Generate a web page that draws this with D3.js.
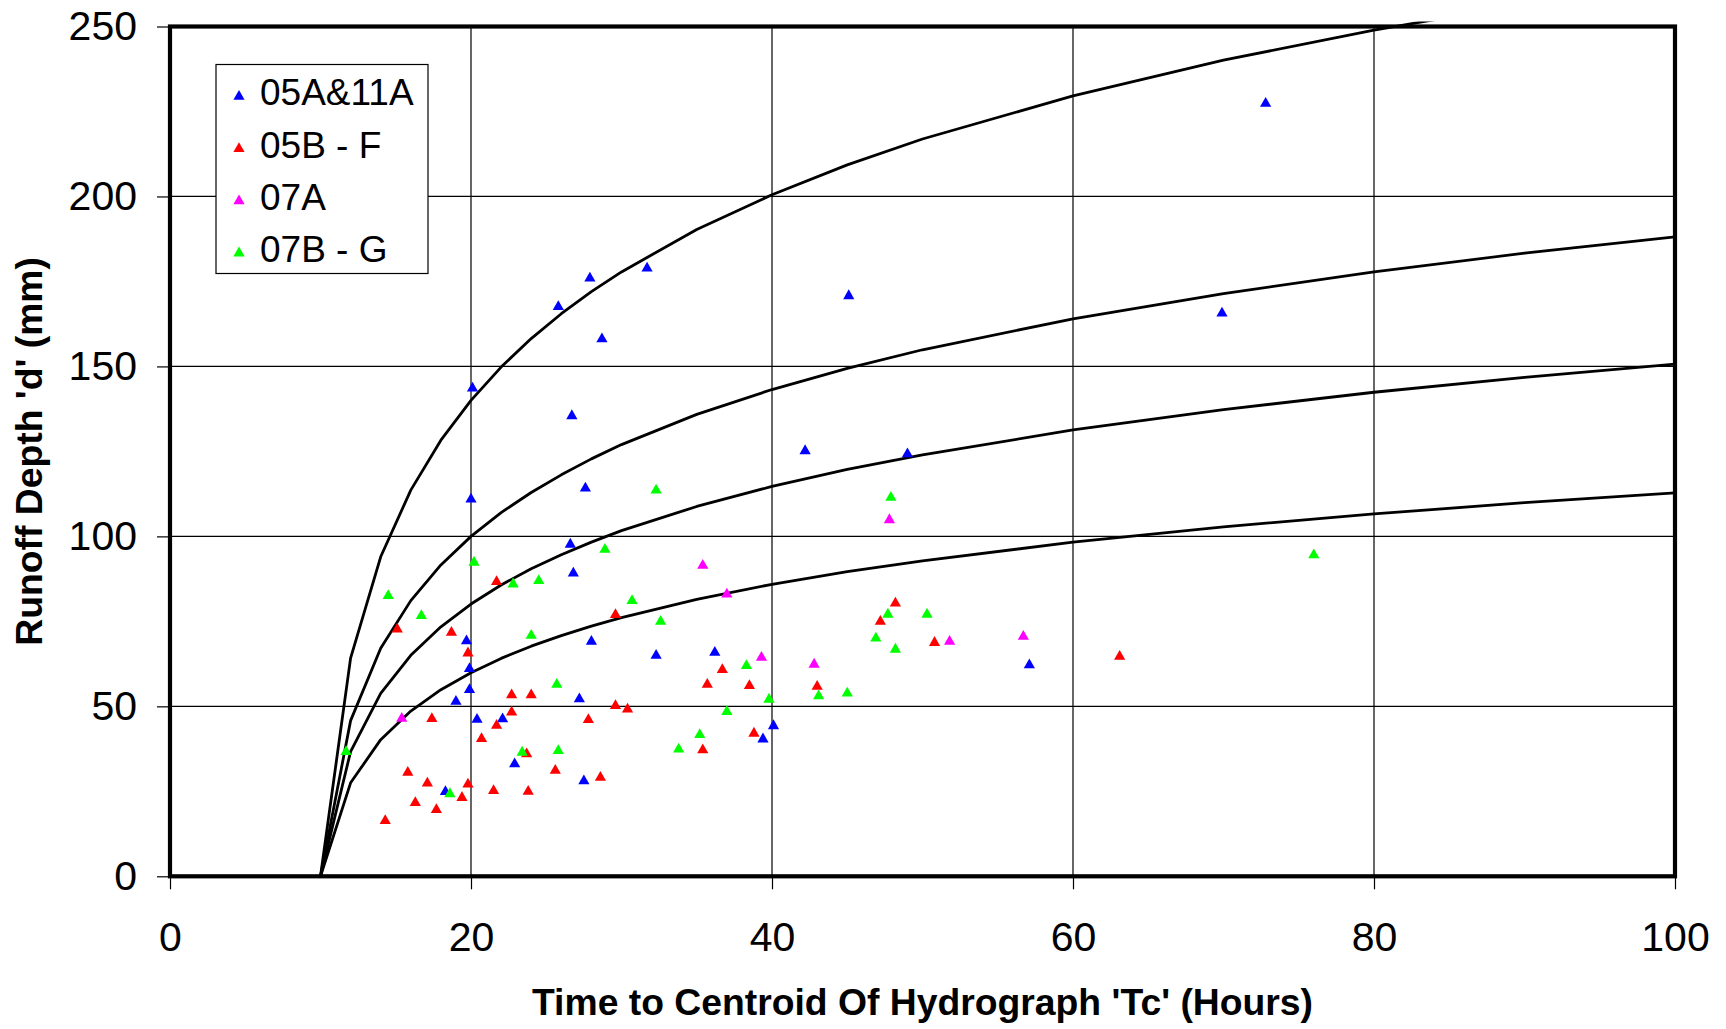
<!DOCTYPE html>
<html>
<head>
<meta charset="utf-8">
<script src="https://cdn.jsdelivr.net/npm/d3@7"></script>
<style>
  html, body { margin: 0; padding: 0; background: #fff; }
  svg { display: block; }
  text { font-family: "Liberation Sans", Arial, sans-serif; fill: #000; }
</style>
</head>
<body>
<svg id="chart" width="1726" height="1029"></svg>
<script>
// ---------------- DATA ----------------
const xTicks = [0, 20, 40, 60, 80, 100];
const yTicks = [0, 50, 100, 150, 200, 250];

// Envelope curves (Tc in hours, depth in mm)
const curveTc = [10, 12, 14, 16, 18, 20, 22, 24, 26, 28, 30, 35, 40, 45, 50, 60, 70, 80, 90, 100];
const curveA = [0, 64.2, 94.0, 113.6, 128.3, 140.0, 149.8, 158.2, 165.5, 172.0, 177.8, 190.3, 200.5, 209.3, 216.9, 229.6, 240.1, 248.9, 256.6, 263.4];
const curveB = [0, 45.8, 67.1, 81.1, 91.6, 100.0, 107.0, 112.9, 118.1, 122.8, 127.0, 135.9, 143.2, 149.4, 154.9, 164.0, 171.4, 177.8, 183.3, 188.1];
const curveC = [0, 36.7, 53.8, 65.0, 73.4, 80.1, 85.7, 90.5, 94.6, 98.3, 101.7, 108.8, 114.7, 119.7, 124.0, 131.3, 137.3, 142.4, 146.8, 150.7];
const curveD = [0, 27.5, 40.2, 48.6, 54.9, 59.9, 64.1, 67.7, 70.8, 73.6, 76.1, 81.5, 85.9, 89.6, 92.8, 98.3, 102.8, 106.6, 109.9, 112.8];

// Observed points [Tc, d]
const series05A11A = [[72.8,227.8],[69.9,166.1],[45.1,171.2],[31.7,179.3],[27.9,176.4],[25.8,168.0],[28.7,158.5],[20.1,144.0],[26.7,135.9],[27.6,114.6],[20.0,111.4],[26.6,98.1],[42.2,125.6],[49.0,124.7],[26.8,89.6],[19.7,69.7],[19.9,61.5],[19.9,55.3],[19.0,51.9],[28.0,69.5],[32.3,65.4],[27.2,52.6],[20.4,46.6],[22.1,46.7],[22.9,33.5],[27.5,28.5],[18.3,25.3],[36.2,66.3],[57.1,62.6],[40.1,44.7],[39.4,40.8]];
const series05BF = [[21.7,87.1],[15.1,73.1],[18.7,72.2],[19.8,66.1],[29.6,77.4],[22.7,53.8],[24.0,53.8],[22.7,48.7],[17.4,46.8],[21.7,44.8],[20.7,40.9],[23.7,36.4],[29.6,50.6],[30.4,49.6],[27.8,46.5],[25.6,31.6],[28.6,29.5],[15.8,31.0],[17.1,27.8],[19.8,27.5],[21.5,25.6],[23.8,25.4],[19.4,23.6],[16.3,22.1],[17.7,20.0],[14.3,16.8],[48.2,80.8],[47.2,75.4],[50.8,69.2],[36.7,61.2],[35.7,56.9],[38.5,56.5],[43.0,56.3],[38.8,42.5],[35.4,37.6],[63.1,65.1]];
const series07A = [[15.4,46.9],[47.8,105.3],[35.4,91.9],[37.0,83.4],[39.3,64.8],[42.8,62.8],[51.8,69.5],[56.7,71.0]];
const series07BG = [[32.3,114.0],[28.9,96.6],[20.2,92.8],[22.8,86.4],[24.5,87.4],[14.5,83.0],[16.7,77.1],[30.7,81.5],[32.6,75.4],[24.0,71.3],[25.7,56.9],[35.2,42.1],[33.8,37.8],[23.4,36.9],[25.8,37.4],[11.7,37.1],[18.6,24.7],[47.9,111.9],[47.7,77.5],[50.3,77.5],[46.9,70.5],[48.2,67.2],[38.3,62.4],[39.8,52.5],[37.0,48.9],[43.1,53.5],[45.0,54.3],[76.0,95.0]];

const seriesNames = ["05A&11A", "05B - F", "07A", "07B - G"];
const seriesColors = ["#0000FF", "#FF0000", "#FF00FF", "#00FF00"];

// ---------------- LAYOUT ----------------
const svg = d3.select("#chart");
const L = 170, R = 1675, T = 26.5, B = 876.3;

const x = d3.scaleLinear().domain([0, 100]).range([L, R]);
const y = d3.scaleLinear().domain([0, 250]).range([B, T]);

// gridlines
const grid = svg.append("g");
grid.selectAll(".vg").data(xTicks.filter(t => t > 0 && t < 100)).enter()
  .append("line")
  .attr("x1", d => x(d)).attr("x2", d => x(d))
  .attr("y1", T).attr("y2", B)
  .attr("stroke", "#000").attr("stroke-width", 1.2);
grid.selectAll(".hg").data(yTicks.filter(t => t > 0 && t < 250)).enter()
  .append("line")
  .attr("x1", L).attr("x2", R)
  .attr("y1", d => y(d)).attr("y2", d => y(d))
  .attr("stroke", "#000").attr("stroke-width", 1.2);

// clip for curves (Excel lets the line go a few px beyond the top)
svg.append("clipPath").attr("id", "plotclip")
  .append("rect").attr("x", L).attr("y", T - 5).attr("width", R - L).attr("height", B - T + 5);

const line = d3.line().x(d => x(d[0])).y(d => y(d[1]));
const curves = [curveA, curveB, curveC, curveD];
svg.append("g").attr("clip-path", "url(#plotclip)")
  .selectAll("path").data(curves).enter()
  .append("path")
  .attr("d", vals => line(curveTc.map((t, i) => [t, vals[i]])))
  .attr("fill", "none").attr("stroke", "#000").attr("stroke-width", 2.8)
  .attr("stroke-linejoin", "round");

// markers
const tri = "M0,-5L5.6,4.8L-5.6,4.8Z";
const allSeries = [series05A11A, series05BF, series07A, series07BG];
allSeries.forEach((s, i) => {
  svg.append("g").selectAll("path").data(s).enter()
    .append("path")
    .attr("d", tri)
    .attr("transform", d => `translate(${x(d[0])},${y(d[1])})`)
    .attr("fill", seriesColors[i]);
});

// frame
svg.append("rect").attr("x", L).attr("y", T).attr("width", R - L).attr("height", B - T)
  .attr("fill", "none").attr("stroke", "#000").attr("stroke-width", 4.2);

// axes
const yAxis = d3.axisLeft(y).tickValues(yTicks).tickSize(13).tickPadding(20).tickFormat(d3.format("d"));
const gy = svg.append("g").attr("transform", `translate(${L},0)`).call(yAxis);
gy.select(".domain").remove();
gy.selectAll(".tick line").attr("stroke", "#000").attr("stroke-width", 1.2);
gy.selectAll(".tick text").attr("font-size", 41).attr("font-family", "Liberation Sans, Arial, sans-serif").attr("fill", "#000");

const xAxis = d3.axisBottom(x).tickValues(xTicks).tickSize(13).tickPadding(33).tickFormat(d3.format("d"));
const gx = svg.append("g").attr("transform", `translate(0,${B})`).call(xAxis);
gx.select(".domain").remove();
gx.selectAll(".tick line").attr("stroke", "#000").attr("stroke-width", 1.2);
gx.selectAll(".tick text").attr("font-size", 41).attr("font-family", "Liberation Sans, Arial, sans-serif").attr("fill", "#000");

// axis titles
svg.append("text")
  .attr("x", (L + R) / 2).attr("y", 1015)
  .attr("text-anchor", "middle").attr("font-size", 37.3).attr("font-weight", "bold")
  .text("Time to Centroid Of Hydrograph 'Tc' (Hours)");
svg.append("text")
  .attr("transform", `translate(42,${(T + B) / 2}) rotate(-90)`)
  .attr("text-anchor", "middle").attr("font-size", 37.3).attr("font-weight", "bold")
  .text("Runoff Depth 'd' (mm)");

// legend
const lg = svg.append("g");
lg.append("rect").attr("x", 216).attr("y", 64.5).attr("width", 212).attr("height", 209)
  .attr("fill", "#fff").attr("stroke", "#000").attr("stroke-width", 1.2);
seriesNames.forEach((name, i) => {
  const cy = 92 + i * 52.2;
  lg.append("path").attr("d", tri)
    .attr("transform", `translate(239,${cy + 3})`)
    .attr("fill", seriesColors[i]);
  lg.append("text").attr("x", 260).attr("y", cy + 13.3)
    .attr("font-size", 37).text(name);
});
</script>
</body>
</html>
